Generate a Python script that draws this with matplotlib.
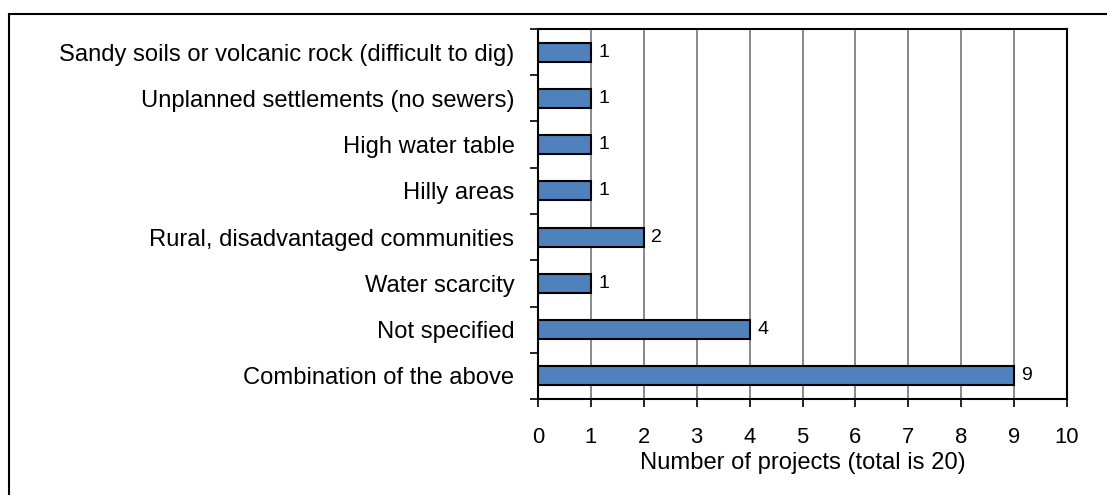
import matplotlib
matplotlib.use("Agg")
import matplotlib.pyplot as plt
from matplotlib.patches import Rectangle
import numpy as np

plt.rcParams['font.family'] = ['Liberation Sans', 'DejaVu Sans']

categories = [
    "Sandy soils or volcanic rock (difficult to dig)",
    "Unplanned settlements (no sewers)",
    "High water table",
    "Hilly areas",
    "Rural, disadvantaged communities",
    "Water scarcity",
    "Not specified",
    "Combination of the above",
]
values = [1, 1, 1, 1, 2, 1, 4, 9]
xticks = list(range(0, 11))
xlabel = "Number of projects (total is 20)"

W, H = 1107, 495
fig = plt.figure(figsize=(W / 100, H / 100), dpi=100)
ax = fig.add_axes([538 / W, 1 - 399 / H, (1067 - 538) / W, (399 - 29) / H])

n = len(categories)
ypos = np.arange(n)[::-1]  # first category at top
ax.barh(ypos, values, height=0.41, color="#4F81BD", edgecolor="black", linewidth=1.5, zorder=3)

for y, v in zip(ypos, values):
    ax.text(v + 0.14, y, str(v), va="center", ha="left", fontsize=14, color="black", zorder=4)

ax.set_xlim(0, 10)
ax.set_ylim(-0.5, n - 0.5)
ax.set_xticks(xticks)
ax.set_xticklabels([str(t) for t in xticks], fontsize=15.8)
ax.tick_params(axis="x", direction="out", length=6, width=1.2, pad=14, color="black")

ax.set_yticks(ypos)
ax.set_yticklabels(categories, fontsize=17.1)
ax.tick_params(axis="y", which="major", length=0, pad=17)
ax.set_yticks(np.arange(-0.5, n, 1.0), minor=True)
ax.tick_params(axis="y", which="minor", direction="out", length=6, width=1.2, color="black")

ax.xaxis.grid(True, color="#808080", linewidth=1.3, zorder=0)
ax.set_axisbelow(True)
for s in ax.spines.values():
    s.set_color("black")
    s.set_linewidth(1.5)

ax.set_xlabel(xlabel, fontsize=17.1, labelpad=3)

# outer chart border
fig.patches.append(Rectangle((8.5 / W, -0.1), 1.2, 1 - 13.5 / H + 0.1, transform=fig.transFigure,
                             fill=False, edgecolor="black", linewidth=1.5))

fig.savefig("out.png", dpi=100)
